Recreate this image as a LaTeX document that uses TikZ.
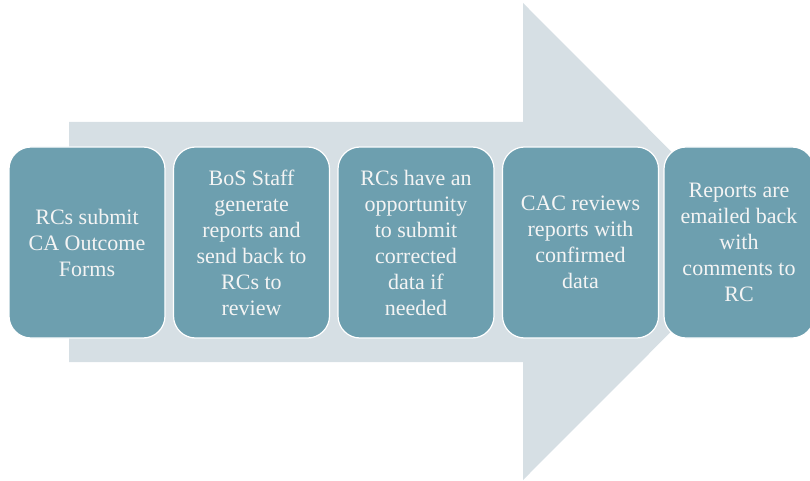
\documentclass[tikz,border=0pt]{standalone}
\usepackage{fontspec}
\setmainfont{Liberation Serif}
\definecolor{arrowc}{HTML}{D6DFE4}
\definecolor{boxc}{HTML}{6D9FAF}
\definecolor{txtc}{HTML}{F4F4F4}
\begin{document}
\begin{tikzpicture}[x=1pt,y=-1pt,
  stepbox/.style={draw=white, line width=1.2pt, fill=boxc, rounded corners=22pt,
    minimum width=156pt, minimum height=191pt, inner sep=0pt, text=txtc,
    align=center, font=\fontsize{22}{26}\selectfont}]
\useasboundingbox (0,0) rectangle (810,481);
\begin{scope}
\clip (0,0) rectangle (810,481);
\fill[arrowc] (69,122) -- (523,122) -- (523,3) -- (761,241.5) -- (523,480) -- (523,362) -- (69,362) -- cycle;
\node[stepbox] (s1) at (87,242.5) {RCs submit\\CA Outcome\\Forms};
\node[stepbox] (s2) at (251.5,242.5) {BoS Staff\\generate\\reports and\\send back to\\RCs to\\review};
\node[stepbox] (s3) at (416,242.5) {RCs have an\\opportunity\\to submit\\corrected\\data if\\needed};
\node[stepbox] (s4) at (580.5,242.5) {CAC reviews\\reports with\\confirmed\\data};
\node[stepbox, minimum width=150pt] (s5) at (739,242.5) {Reports are\\emailed back\\with\\comments to\\RC};
\end{scope}
\end{tikzpicture}
\end{document}
